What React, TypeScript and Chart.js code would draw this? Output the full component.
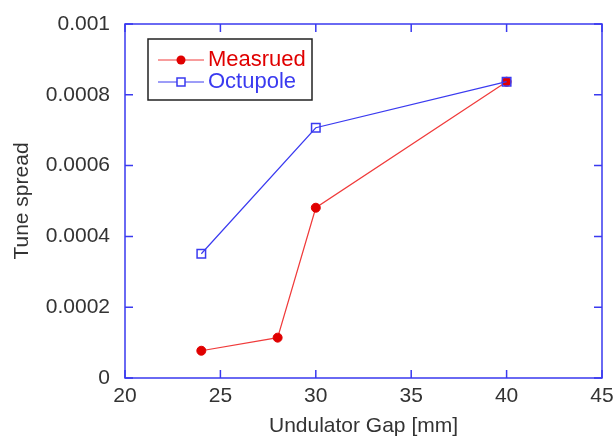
import React, { useEffect, useRef } from "react";
import { Chart, registerables } from "chart.js";

Chart.register(...registerables);

const measuredLabel = "Measrued";
const octupoleLabel = "Octupole";
const measuredX = [24, 28, 30, 40];
const measuredY = [0.000077, 0.000114, 0.000481, 0.000837];
const octupoleX = [24, 30, 40];
const octupoleY = [0.000351, 0.000707, 0.000837];
const xTickLabels = ["20", "25", "30", "35", "40", "45"];
const yTickLabels = ["0", "0.0002", "0.0004", "0.0006", "0.0008", "0.001"];
const xTitle = "Undulator Gap [mm]";
const yTitle = "Tune spread";

const FONT = "'Liberation Sans', Arial, sans-serif";
const AXIS_BLUE = "#3a3af0";
const RED_LINE = "#f03a3a";
const RED_MARK = "#e00000";
const BLUE_LINE = "#3a3af0";
const TEXT = "#333333";

const framePlugin = {
  id: "frameTicks",
  afterDatasetsDraw(chart: any) {
    const { ctx, chartArea } = chart;
    const { left, right, top, bottom } = chartArea;
    const xs = chart.scales.x;
    const ys = chart.scales.y;
    const tl = 8;
    ctx.save();
    ctx.strokeStyle = AXIS_BLUE;
    ctx.lineWidth = 1.5;
    ctx.beginPath();
    ctx.rect(left, top, right - left, bottom - top);
    ctx.stroke();
    ctx.beginPath();
    xs.ticks.forEach((t: any) => {
      const px = xs.getPixelForValue(t.value);
      ctx.moveTo(px, bottom);
      ctx.lineTo(px, bottom - tl);
      ctx.moveTo(px, top);
      ctx.lineTo(px, top + tl);
    });
    ys.ticks.forEach((t: any) => {
      const py = ys.getPixelForValue(t.value);
      ctx.moveTo(left, py);
      ctx.lineTo(left + tl, py);
      ctx.moveTo(right, py);
      ctx.lineTo(right - tl, py);
    });
    ctx.stroke();
    ctx.restore();
  },
  afterDraw(chart: any) {
    const { ctx } = chart;
    const bx = 148, by = 39, bw = 164, bh = 61;
    ctx.save();
    ctx.strokeStyle = "#222222";
    ctx.lineWidth = 1.5;
    ctx.strokeRect(bx, by, bw, bh);
    ctx.font = `22px ${FONT}`;
    ctx.textBaseline = "middle";
    ctx.textAlign = "left";
    chart.data.datasets.forEach((ds: any, i: number) => {
      const y = by + 21 + i * 22;
      ctx.strokeStyle = ds.borderColor;
      ctx.lineWidth = 1;
      ctx.beginPath();
      ctx.moveTo(158, y);
      ctx.lineTo(204, y);
      ctx.stroke();
      if (ds.pointStyle === "circle") {
        ctx.fillStyle = ds.pointBackgroundColor;
        ctx.beginPath();
        ctx.arc(181, y, 4.5, 0, Math.PI * 2);
        ctx.fill();
      } else {
        ctx.fillStyle = "#ffffff";
        ctx.fillRect(177, y - 4, 8, 8);
        ctx.strokeStyle = ds.pointBorderColor;
        ctx.lineWidth = 1.5;
        ctx.strokeRect(177, y - 4, 8, 8);
      }
      ctx.fillStyle = ds.borderColor === RED_LINE ? RED_MARK : BLUE_LINE;
      ctx.fillText(ds.label, 208, y);
    });
    ctx.restore();
  },
};

const zeroPad = (s: any) => {
  s.paddingTop = 0;
  s.paddingBottom = 0;
  s.paddingLeft = 0;
  s.paddingRight = 0;
};

export default function App() {
  const ref = useRef<HTMLCanvasElement>(null);
  useEffect(() => {
    document.body.style.margin = "0";
    const canvas = ref.current;
    if (!canvas) return;
    const chart = new Chart(canvas, {
      type: "line",
      data: {
        datasets: [
          {
            label: measuredLabel,
            data: measuredX.map((x, i) => ({ x, y: measuredY[i] })),
            borderColor: RED_LINE,
            borderWidth: 1.2,
            pointStyle: "circle",
            pointRadius: 4.5,
            pointBackgroundColor: RED_MARK,
            pointBorderColor: RED_MARK,
            pointBorderWidth: 1,
            order: 1,
          },
          {
            label: octupoleLabel,
            data: octupoleX.map((x, i) => ({ x, y: octupoleY[i] })),
            borderColor: BLUE_LINE,
            borderWidth: 1.2,
            pointStyle: "rect",
            pointRadius: 6,
            pointBackgroundColor: "rgba(255,255,255,0)",
            pointBorderColor: BLUE_LINE,
            pointBorderWidth: 1.5,
            order: 0,
          },
        ],
      } as any,
      options: {
        animation: false,
        responsive: false,
        devicePixelRatio: 1,
        layout: { padding: { left: 0, right: 11, top: 24, bottom: 0 } },
        plugins: {
          legend: { display: false },
          tooltip: { enabled: false },
        },
        scales: {
          x: {
            type: "linear",
            min: 20,
            max: 45,
            grid: { display: false, drawTicks: false },
            border: { display: false },
            ticks: {
              stepSize: 5,
              padding: 6,
              color: TEXT,
              font: { family: FONT, size: 21 },
              callback: (_v: any, i: number) => xTickLabels[i],
            },
            title: {
              display: true,
              text: xTitle,
              color: TEXT,
              font: { family: FONT, size: 21, lineHeight: 1 },
              padding: { top: 0, bottom: 0 },
            },
            afterFit: (s: any) => {
              s.height = 59;
              zeroPad(s);
            },
          },
          y: {
            type: "linear",
            min: 0,
            max: 0.001,
            grid: { display: false, drawTicks: false },
            border: { display: false },
            ticks: {
              stepSize: 0.0002,
              padding: 15,
              color: TEXT,
              font: { family: FONT, size: 21 },
              callback: (_v: any, i: number) => yTickLabels[i],
            },
            title: {
              display: true,
              text: yTitle,
              color: TEXT,
              font: { family: FONT, size: 21, lineHeight: 1.2 },
              padding: { top: 10, bottom: 0 },
            },
            afterFit: (s: any) => {
              s.width = 125;
              zeroPad(s);
            },
          },
        },
      } as any,
      plugins: [framePlugin],
    });
    return () => chart.destroy();
  }, []);
  return (
    <div style={{ width: 613, height: 437 }}>
      <canvas ref={ref} width={613} height={437} />
    </div>
  );
}
